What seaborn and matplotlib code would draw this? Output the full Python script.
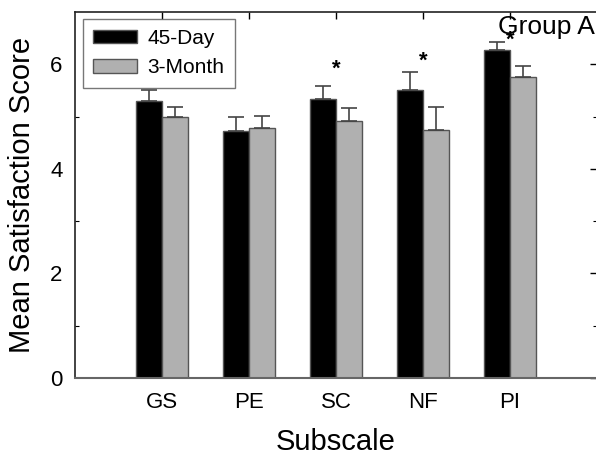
import numpy as np
import pandas as pd
import matplotlib
matplotlib.use('Agg')
import matplotlib.pyplot as plt
import seaborn as sns

subscales = ['GS', 'PE', 'SC', 'NF', 'PI']
day45_mean = [5.29, 4.72, 5.33, 5.50, 6.27]
day45_err = [0.21, 0.27, 0.26, 0.35, 0.15]
month3_mean = [4.99, 4.78, 4.91, 4.74, 5.75]
month3_err = [0.19, 0.23, 0.25, 0.45, 0.21]
significant = ['SC', 'NF', 'PI']
star_y = [5.90, 6.05, 6.46]

sns.set_style('white')
plt.rcParams['font.family'] = ['Liberation Sans', 'DejaVu Sans']
plt.rcParams['text.color'] = 'black'
plt.rcParams['axes.labelcolor'] = 'black'
plt.rcParams['xtick.color'] = 'black'
plt.rcParams['ytick.color'] = 'black'

df = pd.DataFrame({
    'Subscale': subscales * 2,
    'Score': day45_mean + month3_mean,
    'Time': ['45-Day'] * 5 + ['3-Month'] * 5,
})

fig = plt.figure(figsize=(5.96, 4.55), dpi=100)
ax = fig.add_axes([75 / 596, 77 / 455, 522 / 596, 366 / 455])

sns.barplot(data=df, x='Subscale', y='Score', hue='Time', order=subscales,
            hue_order=['45-Day', '3-Month'], palette=['#000000', '#b0b0b0'],
            width=0.6, edgecolor='#555555', linewidth=1, errorbar=None,
            saturation=1, ax=ax)

# one-sided error bars on top of each bar
for cont, errs in zip(ax.containers, [day45_err, month3_err]):
    xs = [p.get_x() + p.get_width() / 2 for p in cont.patches]
    ys = [p.get_height() for p in cont.patches]
    ax.errorbar(xs, ys, yerr=[np.zeros(len(errs)), errs], fmt='none',
                ecolor='#444444', elinewidth=1.2, capsize=6, capthick=1.2)

for name, y in zip(significant, star_y):
    ax.text(subscales.index(name), y, '*', ha='center', va='center',
            fontsize=16, fontweight='bold')

ax.text(3.86, 6.72, 'Group A', ha='left', va='center', fontsize=19)

ax.set_xlim(-1, 5)
ax.set_ylim(0, 7)
ax.set_yticks([0, 2, 4, 6])
ax.set_yticks([1, 3, 5], minor=True)
ax.tick_params(axis='both', which='major', direction='in', top=True, right=True,
               length=5, width=1, labelsize=16, pad=9, colors='black')
ax.tick_params(axis='y', which='minor', direction='in', left=True, right=True,
               length=3, width=0.8)
ax.tick_params(axis='x', labelsize=16, pad=10)

for side in ['left', 'top', 'right']:
    ax.spines[side].set_color('#222222')
    ax.spines[side].set_linewidth(1.2)
ax.spines['bottom'].set_color('#666666')
ax.spines['bottom'].set_linewidth(1.5)

ax.set_xlabel('Subscale', fontsize=21, labelpad=11)
ax.set_ylabel('Mean Satisfaction Score', fontsize=21, labelpad=10)

leg = ax.legend(loc='upper left', bbox_to_anchor=(0.015, 0.982), fontsize=15,
                frameon=True, fancybox=False, edgecolor='#555555',
                handlelength=2.1, handleheight=0.6, borderpad=0.5,
                labelspacing=0.5, handletextpad=0.5, borderaxespad=0)
leg.get_frame().set_linewidth(1)

fig.savefig('out.png', dpi=100)
